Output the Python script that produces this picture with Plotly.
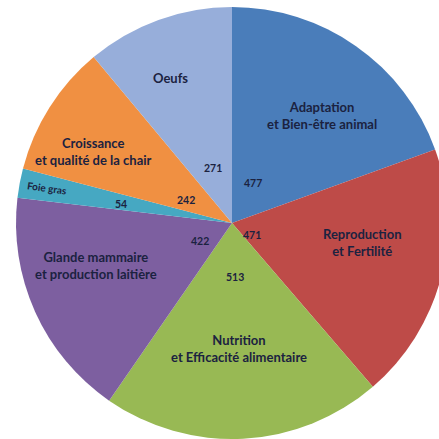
import math
import plotly.graph_objects as go

labels = ["Adaptation<br>et Bien-être animal", "Reproduction<br>et Fertilité",
          "Nutrition<br>et Efficacité alimentaire", "Glande mammaire<br>et production laitière",
          "Foie gras", "Croissance<br>et qualité de la chair", "Oeufs"]
values = [477, 471, 513, 422, 54, 242, 271]
colors = ["#4A7DBA", "#BE4B48", "#98B954", "#7D5FA0", "#46A8C2", "#F09042", "#97AEDA"]

# styling: radial fractions for name labels and value labels
name_r = [0.65, 0.61, 0.58, 0.66, 0.87, 0.72, 0.73]
name_da = [5, -6, 0, 7, 0, -5, -3]
name_size = [13, 13, 13, 13, 10, 13, 13]
name_angle = [0, 0, 0, 0, 8, 0, 0]
val_r = [0.21, 0.107, 0.25, 0.17, 0.52, 0.24, 0.27]
val_da = [-7, 16, 0, -5, -1, -6, 1]

W, H = 464, 446
L, R, T, B = 16, 16, 7, 7

fig = go.Figure(go.Pie(
    labels=labels, values=values, sort=False, direction="clockwise", rotation=0,
    marker=dict(colors=colors, line=dict(width=0)),
    textinfo="none", hoverinfo="label+value", showlegend=False,
    domain=dict(x=[0, 1], y=[0, 1]),
))

total = sum(values)
cum = 0
annotations = []
txtcol = "#1B2240"
for i, v in enumerate(values):
    mid = (cum + v / 2) / total * 360
    cum += v
    a = math.radians(mid + name_da[i])
    annotations.append(dict(
        x=0.5 + 0.5 * name_r[i] * math.sin(a), y=0.5 + 0.5 * name_r[i] * math.cos(a),
        xref="paper", yref="paper", xanchor="center", yanchor="middle",
        text="<b>" + labels[i] + "</b>", showarrow=False,
        font=dict(size=name_size[i], color=txtcol, family="Lato"),
        textangle=name_angle[i], align="center"))
    b = math.radians(mid + val_da[i])
    annotations.append(dict(
        x=0.5 + 0.5 * val_r[i] * math.sin(b), y=0.5 + 0.5 * val_r[i] * math.cos(b),
        xref="paper", yref="paper", xanchor="center", yanchor="middle",
        text="<b>%d</b>" % v, showarrow=False,
        font=dict(size=10.5, color=txtcol, family="Lato")))

fig.update_layout(
    width=W, height=H, margin=dict(l=L, r=R, t=T, b=B),
    paper_bgcolor="white", plot_bgcolor="white", annotations=annotations,
)

fig.write_html("out.html", post_script="document.documentElement.style.overflow='hidden';document.body.style.overflow='hidden';")
